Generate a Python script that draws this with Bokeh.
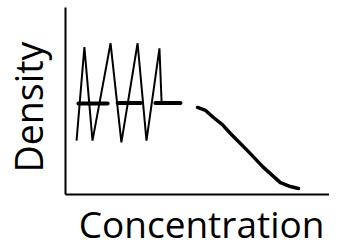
import math
from bokeh.plotting import figure
from bokeh.embed import file_html
from bokeh.resources import INLINE
from bokeh.models import Range1d, FixedTicker
from bokeh.core.properties import value

# Sketch data (arbitrary units: concentration 0-100, density 0-100)
zigzag_x = [4.1, 7.0, 10.0, 16.7, 20.7, 26.7, 30.0, 34.8, 35.6]
zigzag_y = [29.0, 79.2, 29.0, 81.3, 28.0, 81.3, 29.0, 78.6, 49.4]

plateau_x0 = [4.8, 19.3, 33.3]
plateau_x1 = [15.6, 27.8, 42.6]
plateau_y = [48.9, 49.2, 49.2]

decline_x = [48.9, 51.9, 54.8, 58.1, 61.1, 67.4, 73.3, 79.6, 83.3, 86.3]
decline_y = [46.8, 45.2, 41.4, 37.6, 32.8, 23.6, 14.6, 6.4, 4.3, 3.2]

x_label = "Concentration"
y_label = "Density"

X_MIN, X_MAX = -24.07, 97.78
Y_MIN, Y_MAX = -25.8, 104.3

p = figure(width=329, height=242, output_backend="svg", toolbar_location=None,
           x_range=Range1d(X_MIN, X_MAX), y_range=Range1d(Y_MIN, Y_MAX),
           min_border_left=0, min_border_right=0, min_border_top=0, min_border_bottom=0)
p.outline_line_color = None
p.grid.visible = False
p.background_fill_color = "white"

for ax in (p.xaxis[0], p.yaxis[0]):
    ax.ticker = FixedTicker(ticks=[])
    ax.fixed_location = 0
    ax.axis_line_color = "black"
    ax.axis_line_width = 2
    ax.major_tick_line_color = None
    ax.minor_tick_line_color = None
    ax.major_tick_out = 0
    ax.major_tick_in = 0
    ax.major_label_standoff = 0
    ax.major_label_text_font_size = "0px"
p.xaxis[0].bounds = (0, X_MAX)
p.yaxis[0].bounds = (0, 100.5)

p.text(x=[50.4], y=[-15.4], text=[x_label], text_align="center",
       text_baseline="alphabetic", text_font=value("Open Sans"),
       text_font_size="37px", text_color="black")
p.text(x=[-13.7], y=[47.0], text=[y_label], angle=math.pi / 2,
       text_align="center", text_baseline="alphabetic",
       text_font=value("Open Sans"), text_font_size="37.5px",
       text_color="black")

p.line(zigzag_x, zigzag_y, line_color="black", line_width=2)
p.segment(x0=plateau_x0, y0=plateau_y, x1=plateau_x1, y1=plateau_y,
          line_color="black", line_width=4, line_cap="round")
p.line(decline_x, decline_y, line_color="black", line_width=3.5, line_cap="round", line_join="round")

open("out.html", "w").write(file_html(p, INLINE))
